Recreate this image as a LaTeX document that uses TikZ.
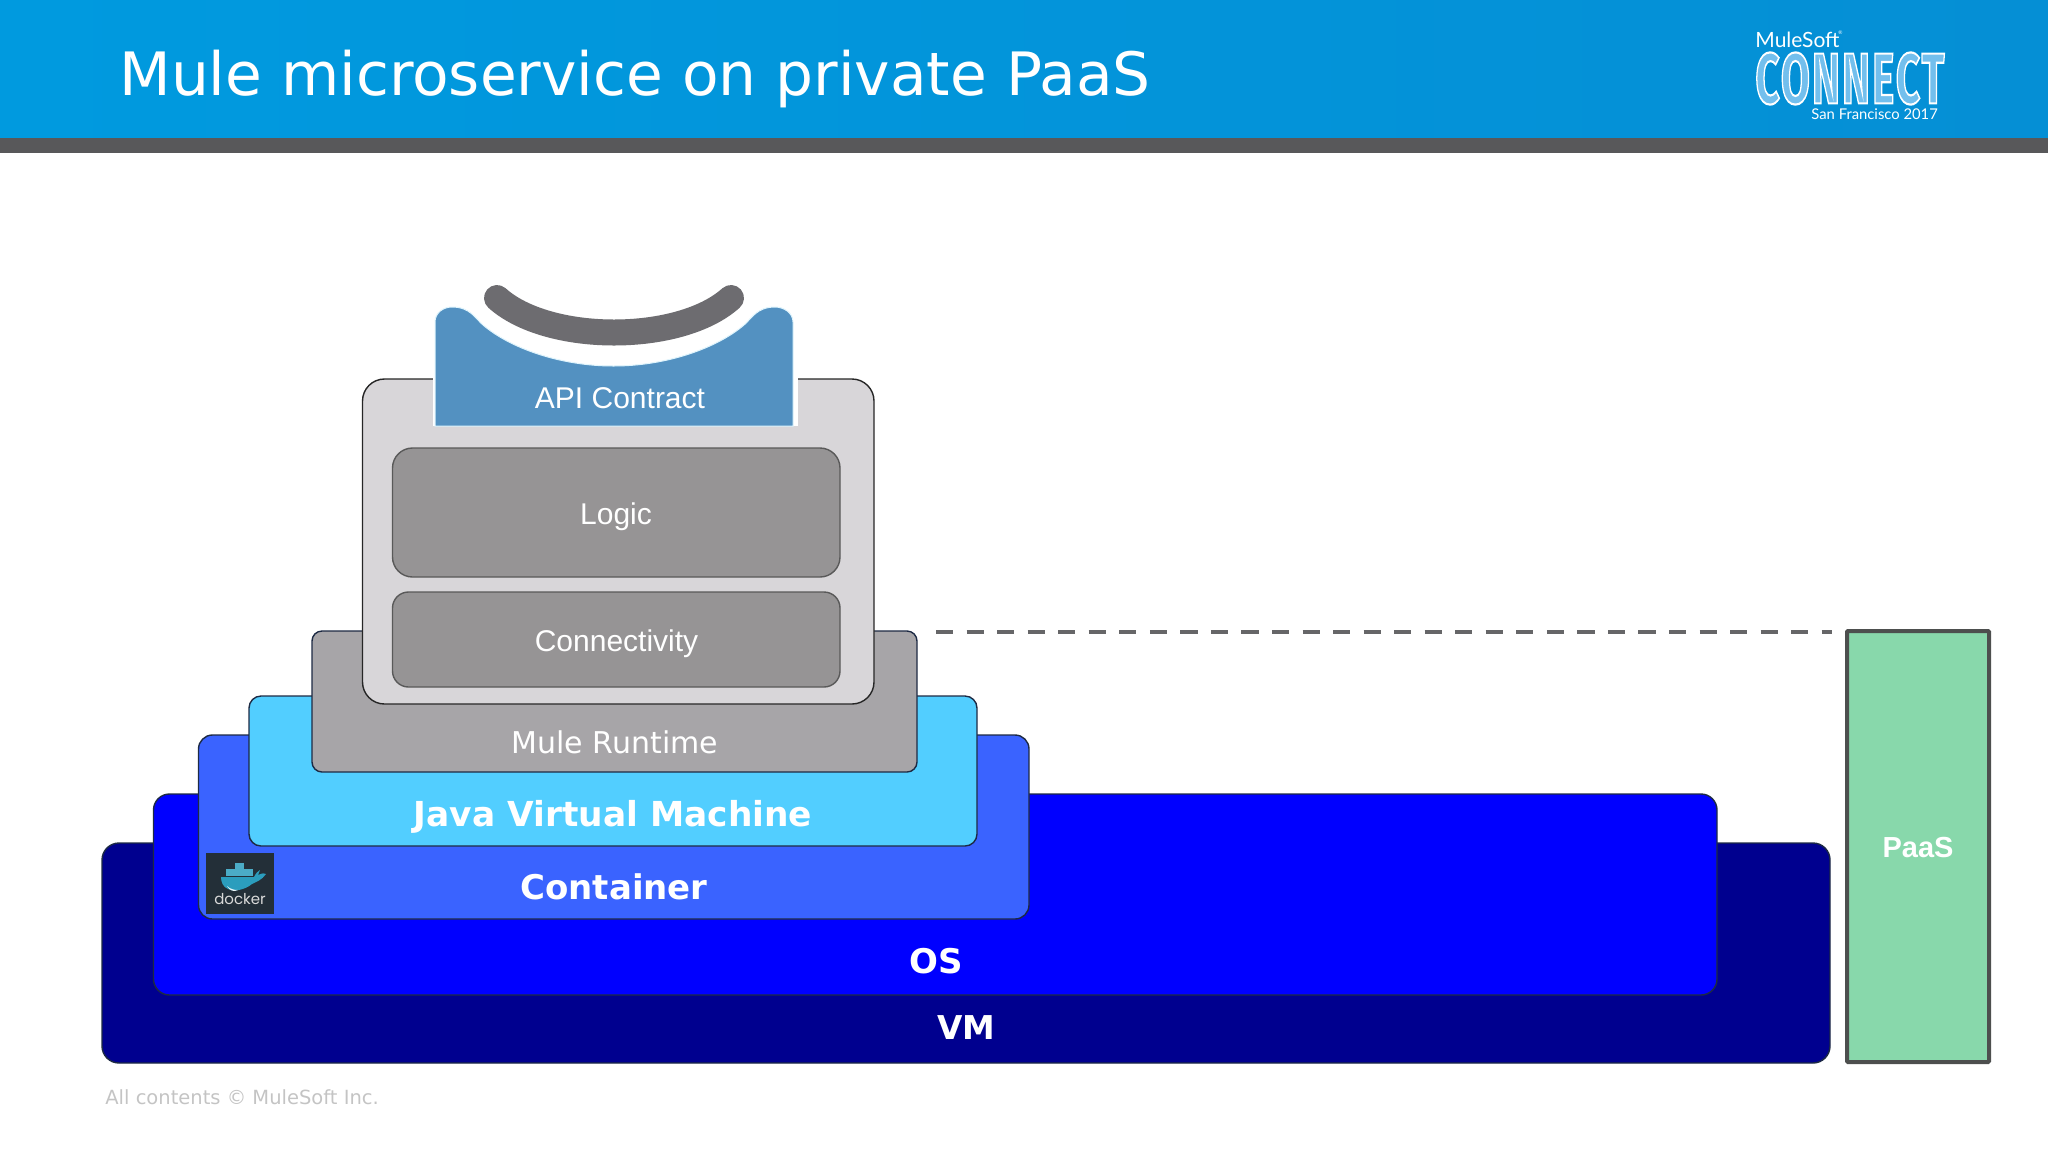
\documentclass[tikz,border=0pt]{standalone}
\usepackage{fontspec}
\usepackage{graphicx}
\setmainfont{DejaVu Sans}
\newfontfamily\arialf{Liberation Sans}
\newfontfamily\latof{Lato}
\newfontfamily\firaf[LetterSpace=5]{Fira Sans}
\newfontfamily\popf{Poppins}
\definecolor{vmc}{HTML}{00008F}
\definecolor{osc}{HTML}{0000FF}
\definecolor{conc}{HTML}{3A63FF}
\definecolor{jvmc}{HTML}{52CEFF}
\definecolor{mulec}{HTML}{A7A5A8}
\definecolor{panelc}{HTML}{D8D6D9}
\definecolor{logicc}{HTML}{969495}
\definecolor{apic}{HTML}{5391C1}
\definecolor{smilec}{HTML}{6D6C70}
\definecolor{paasc}{HTML}{88D8AB}
\definecolor{paasb}{HTML}{4D4F4E}
\definecolor{barc}{HTML}{58585A}
\definecolor{dashc}{HTML}{666668}
\definecolor{edgec}{HTML}{1D2A44}
\definecolor{dockc}{HTML}{232F38}
\definecolor{whalec}{HTML}{2B9DBD}
\definecolor{footc}{HTML}{C4C4C4}
\definecolor{headl}{RGB}{0,154,223}
\definecolor{headr}{RGB}{5,143,213}
\newcommand{\pxbox}[6]{\node[#1,anchor=north west,minimum width={(#5-#3)*0.5pt},minimum height={(#6-#4)*0.5pt}] (#2) at (#3,#4) {};}
\newcommand{\fs}[1]{\fontsize{#1}{#1}\selectfont}
\tikzset{
  box/.style={rectangle,inner sep=0pt,outer sep=0pt,draw=edgec,line width=0.7pt},
  layerbold/.style={inner sep=0pt,text=white,font=\fs{17}\bfseries},
  arial/.style={inner sep=0pt,text=white,font=\arialf\fs{15}},
}
\begin{document}
\begin{tikzpicture}[x=0.5pt,y=-0.5pt]
\useasboundingbox (0,0) rectangle (2048,1152);
% header
\fill[left color=headl,right color=headr] (0,0) rectangle (2048,138);
\fill[barc] (0,138) rectangle (2048,153);
\node[anchor=west,inner sep=0pt,text=white,font=\fs{29.9}] (title) at (119,79) {Mule microservice on private PaaS};
% logo
\node[anchor=west,inner sep=0pt,text=white,font=\latof\fs{10.5}] (brand) at (1755,40) {MuleSoft};
\node[anchor=west,inner sep=0pt,text=white,font=\latof\fs{2.5}] (reg) at (1838,33) {®};
\node[anchor=north west,inner sep=0pt] (connect) at (1755,52) {\resizebox{94.5pt}{25.5pt}{\firaf\bfseries\special{pdf:code 2 Tr 0.3 w 1 1 1 RG 0.45 0.75 0.93 rg}CONNECT\special{pdf:code 0 Tr}}};
\node[anchor=west,inner sep=0pt,text=white,font=\latof\fs{7.4}] (place) at (1811,114) {San Francisco 2017};
% stack
\pxbox{box,fill=vmc,rounded corners=8.5pt}{vm}{102}{843}{1830}{1063}
\pxbox{box,fill=osc,rounded corners=8pt}{os}{153.5}{794}{1717}{995}
\pxbox{box,fill=conc,rounded corners=7pt}{con}{198.5}{735}{1029}{919}
\pxbox{box,fill=jvmc,rounded corners=6pt}{jvm}{249}{696}{977}{846}
\pxbox{box,fill=mulec,rounded corners=5pt}{mule}{312}{631}{917}{772}
\pxbox{box,draw=black!85,fill=panelc,rounded corners=11pt}{panel}{362.5}{379}{874}{704}
\pxbox{box,draw=black!65,fill=logicc,rounded corners=10pt}{logic}{392.5}{448}{840}{577}
\pxbox{box,draw=black!65,fill=logicc,rounded corners=8pt}{conn}{392.5}{592}{840}{687}
% API contract picture
\fill[white] (433,285) rectangle (798,426);
\fill[apic,draw=cyan!12!white,line width=0.5pt] (435,426) -- (435,322) .. controls (435,313) and (443,307) .. (452,307)
  .. controls (470,307) and (475,318) .. (483,325) .. controls (510,348) and (560,366) .. (613.5,366)
  .. controls (667,366) and (717,348) .. (744,325) .. controls (752,318) and (757,307) .. (775,307)
  .. controls (784,307) and (793,313) .. (793,322) -- (793,426) -- cycle;
\draw[smilec,line width=13pt,line cap=round] (497,298) .. controls (548,344) and (680,344) .. (731,298);
% labels
\node[arial] (apil) at (620,398) {API Contract};
\node[arial] (logicl) at (616,517) {Logic};
\node[arial] (connl) at (616.5,644) {Connectivity};
\node[inner sep=0pt,text=white,font=\fs{15}] (mulel) at (615,742) {Mule Runtime};
\node[inner sep=0pt,text=white,font=\fs{17.2}\bfseries] (jvml) at (613,817) {Java Virtual Machine};
\node[layerbold] (conl) at (614,887) {Container};
\node[layerbold] (osl) at (936,961) {OS};
\node[inner sep=0pt,text=white,font=\fs{16.4}\bfseries] (vml) at (966,1028) {VM};
% docker
\pxbox{rectangle,inner sep=0pt,outer sep=0pt,fill=dockc}{dock}{206}{853}{274}{914}
\fill[whalec] (221,877) -- (254,877) .. controls (256,873) and (258,871) .. (260,870) -- (258,875) .. controls (262,873) and (265,873) .. (266,874)
  .. controls (262,880) and (256,882) .. (252,884) .. controls (245,890) and (233,892) .. (228,889) .. controls (223,887) and (221,882) .. (221,877) -- cycle;
\fill[whalec!85!white] (226,869) rectangle (253,876);
\fill[whalec!85!white] (235,863) rectangle (244,869);
\fill[white!90!whalec] (227,886) .. controls (230,889) and (234,890) .. (238,890) .. controls (234,892) and (230,891) .. (227,886) -- cycle;
\node[inner sep=0pt,text=white!85!black,font=\popf\fs{7.5}] (dockl) at (240,899) {docker};
% PaaS
\pxbox{rectangle,inner sep=0pt,outer sep=0pt,draw=paasb,line width=2pt,fill=paasc,rounded corners=0.5pt}{paas}{1847}{631}{1989}{1062}
\node[inner sep=0pt,text=white,font=\arialf\fs{14.5}\bfseries] (paasl) at (1918,847) {PaaS};
\coordinate (dashstart) at (936,632);
\draw[dashc,line width=2pt,dash pattern=on 8.6pt off 6.67pt,shorten >=7.5pt] (dashstart) -- (dashstart -| paas.west);
% footer
\node[anchor=west,inner sep=0pt,text=footc,font=\fs{9.75}] (foot) at (105,1097) {All contents © MuleSoft Inc.};
\end{tikzpicture}
\end{document}
